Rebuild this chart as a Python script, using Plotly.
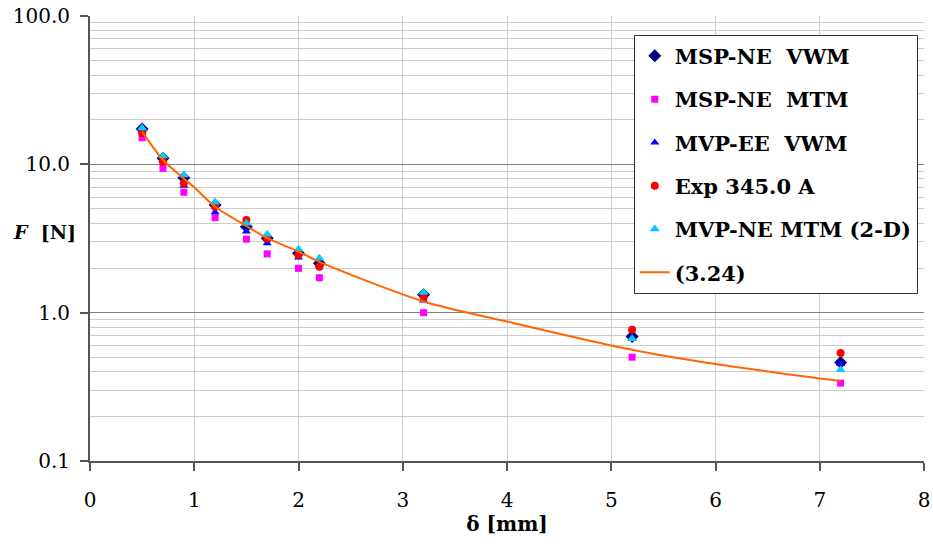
import plotly.graph_objects as go

# Displacement delta [mm] at which forces were evaluated
delta = [0.5, 0.7, 0.9, 1.2, 1.5, 1.7, 2.0, 2.2, 3.2, 5.2, 7.2]

# Force F [N] per method
msp_ne_vwm = [17.3, 10.97, 8.12, 5.32, 3.80, 3.18, 2.52, 2.15, 1.32, 0.69, 0.461]
msp_ne_mtm = [15.1, 9.4, 6.48, 4.37, 3.13, 2.49, 1.99, 1.72, 1.0, 0.501, 0.335]
mvp_ee_vwm = [17.0, 10.7, 7.18, 4.75, 3.52, 2.94, 2.35, 2.10, 1.21, 0.67, 0.45]
exp_345 = [16.2, 10.4, 7.45, 5.18, 4.22, 3.18, 2.45, 2.04, 1.27, 0.766, 0.534]
mvp_ne_mtm_2d = [17.6, 11.4, 8.47, 5.55, 4.01, 3.38, 2.68, 2.33, 1.366, 0.666, 0.412]

# Analytical curve, eq. (3.24)
eq_delta = [0.5, 0.7, 0.9, 1.0, 1.2, 1.5, 1.7, 2.0, 2.2, 3.2, 4.0, 5.2, 6.0, 7.2]
eq_force = [16.6, 10.7, 8.04, 7.0, 5.18, 3.84, 3.18, 2.58, 2.2, 1.19, 0.871, 0.562, 0.45, 0.346]

y_tick_vals = [0.1, 1, 10, 100]
y_tick_text = ["0.1", "1.0", "10.0", "100.0"]

SERIF = "DejaVu Serif"

fig = go.Figure()

series = [
    ("MSP-NE\u00a0 VWM", msp_ne_vwm, "diamond", "#000080", 10),
    ("MSP-NE\u00a0 MTM", msp_ne_mtm, "square", "#FF00FF", 7),
    ("MVP-EE\u00a0 VWM", mvp_ee_vwm, "triangle-up", "#0000FF", 8),
    ("Exp 345.0 A", exp_345, "circle", "#FF0000", 8),
    ("MVP-NE MTM (2-D)", mvp_ne_mtm_2d, "triangle-up", "#00CCFF", 9),
]
for i, (name, vals, sym, col, size) in enumerate(series):
    fig.add_trace(go.Scatter(
        x=delta, y=vals, mode="markers", name=name, legendgroup=f"g{i}",
        marker=dict(symbol=sym, color=col, size=size, line=dict(width=0)),
    ))

fig.add_trace(go.Scatter(
    x=eq_delta, y=eq_force, mode="lines", name="(3.24)", legendgroup="g5",
    line=dict(color="#FF6600", width=2, shape="spline", smoothing=0.8),
))

fig.update_layout(
    width=933, height=546,
    margin=dict(l=90, r=9, t=16, b=85, autoexpand=False),
    paper_bgcolor="white", plot_bgcolor="white",
    font=dict(family=SERIF, size=20, color="black"),
    showlegend=True,
    legend=dict(
        x=0.652, y=0.958, xanchor="left", yanchor="top",
        bgcolor="white", bordercolor="#333333", borderwidth=1,
        font=dict(family=SERIF, size=21, color="black", weight="bold"),
        tracegroupgap=13,
    ),
)

fig.update_xaxes(
    range=[0, 8], dtick=1, tick0=0,
    showgrid=True, gridcolor="#cfcfcf", gridwidth=1,
    showline=True, linecolor="#555555", linewidth=1.5,
    ticks="outside", ticklen=8, tickcolor="#555555", tickwidth=1.5,
    ticklabelstandoff=12, ticklabeloverflow="allow", automargin=False,
    tickfont=dict(family=SERIF, size=20),
    zeroline=False,
    title=dict(text="<b>δ [mm]</b>", font=dict(family=SERIF, size=20), standoff=6),
)

fig.update_yaxes(
    type="log", range=[-1, 2],
    tickvals=y_tick_vals, ticktext=y_tick_text,
    showgrid=True, gridcolor="#808080", gridwidth=1,
    minor=dict(showgrid=True, gridcolor="#cccccc", gridwidth=1, dtick="D1", ticks=""),
    showline=True, linecolor="#555555", linewidth=2,
    ticks="outside", ticklen=8, tickcolor="#555555", tickwidth=1.5,
    ticklabelstandoff=6, ticklabeloverflow="allow", automargin=False,
    tickfont=dict(family=SERIF, size=20),
    zeroline=False,
)

# Horizontal y-axis label
fig.add_annotation(
    text="<b><i>F</i>  [N]</b>", xref="paper", yref="paper",
    x=-0.095, y=0.515, xanchor="left", yanchor="middle", showarrow=False,
    font=dict(family=SERIF, size=19, color="black"),
)

fig.write_html("out.html")
